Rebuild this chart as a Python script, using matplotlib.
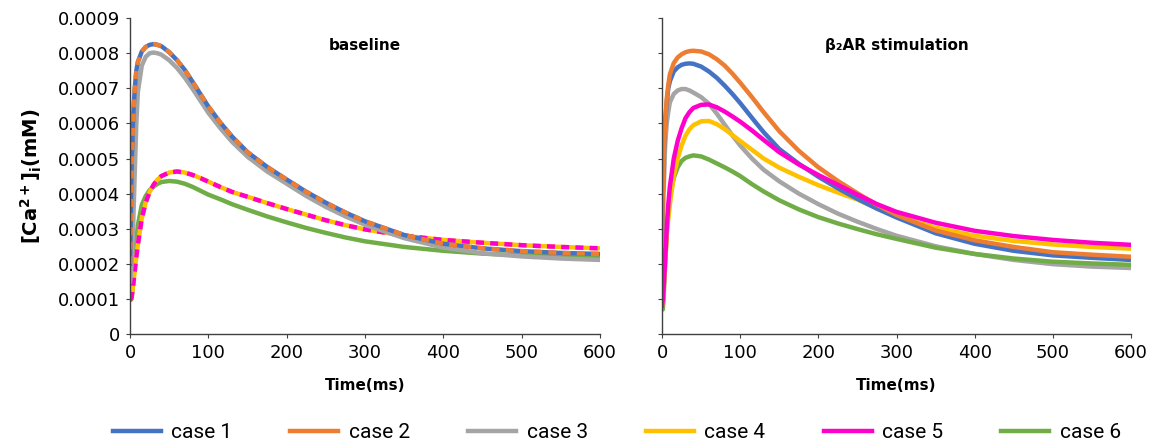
import numpy as np
from matplotlib import pyplot as plt
from matplotlib.lines import Line2D

# Data -----------------------------------------------------------------------------------------------------------------
time_ms = [0, 1, 2, 4, 6, 8, 10, 15, 20, 25, 30, 35, 40, 50, 60, 70, 80, 90, 100, 115, 130, 150, 175, 200, 225, 250,
           275, 300, 350, 400, 450, 500, 550, 600]

# baseline
base_case1 = [0.0002, 0.00034, 0.00048, 0.00062, 0.0007, 0.00075, 0.000775, 0.000805, 0.000818, 0.000824, 0.000826,
              0.000824, 0.00082, 0.000803, 0.00078, 0.000752, 0.000718, 0.000683, 0.000648, 0.000603, 0.000563,
              0.000518, 0.000476, 0.00044, 0.000405, 0.000374, 0.000346, 0.000321, 0.000282, 0.000257, 0.000244,
              0.000236, 0.000231, 0.000228]
base_case2 = list(base_case1)
base_case3 = [0.00015, 0.00017, 0.0002, 0.00031, 0.00046, 0.0006, 0.00069, 0.000765, 0.00079, 0.0008, 0.000802,
              0.0008, 0.000796, 0.00078, 0.000758, 0.00073, 0.000698, 0.000664, 0.00063, 0.000587, 0.000548,
              0.000505, 0.000463, 0.000428, 0.000393, 0.000362, 0.000335, 0.000311, 0.000273, 0.000246, 0.00023,
              0.000221, 0.000215, 0.000211]
base_case4 = [0.0001, 0.0001, 0.000105, 0.00014, 0.00018, 0.00022, 0.000255, 0.00033, 0.000375, 0.000405, 0.000425,
              0.00044, 0.00045, 0.00046, 0.000463, 0.00046, 0.000453, 0.000444, 0.000434, 0.000419, 0.000405,
              0.000391, 0.000373, 0.000356, 0.00034, 0.000324, 0.00031, 0.000298, 0.00028, 0.000268, 0.00026,
              0.000253, 0.000248, 0.000244]
base_case5 = list(base_case4)
base_case6 = [0.0001, 0.000097, 0.0001, 0.00015, 0.00021, 0.00027, 0.00031, 0.000368, 0.000393, 0.00041, 0.00042,
              0.000428, 0.000433, 0.000436, 0.000434, 0.000428, 0.000419, 0.000408, 0.000397, 0.000384, 0.00037,
              0.000354, 0.000335, 0.000318, 0.000302, 0.000288, 0.000275, 0.000264, 0.000248, 0.000237, 0.000229,
              0.000224, 0.000221, 0.000218]

# beta2-AR stimulation
stim_case1 = [0.00022, 0.0004, 0.0005, 0.0006, 0.00066, 0.0007, 0.00072, 0.000748, 0.00076, 0.000767, 0.00077,
              0.000771, 0.00077, 0.000762, 0.000748, 0.00073, 0.000708, 0.000684, 0.000658, 0.000616, 0.000575,
              0.000527, 0.000485, 0.000448, 0.000415, 0.000385, 0.000357, 0.000332, 0.000287, 0.000257, 0.000237,
              0.000224, 0.000217, 0.000211]
stim_case2 = [0.00025, 0.00042, 0.0005, 0.0006, 0.00067, 0.00071, 0.00074, 0.000772, 0.000788, 0.000797, 0.000803,
              0.000806, 0.000807, 0.000805, 0.000797, 0.000783, 0.000765, 0.000742, 0.000716, 0.000675, 0.000632,
              0.000578, 0.000522, 0.000475, 0.000436, 0.000401, 0.000368, 0.000339, 0.000295, 0.000267, 0.000248,
              0.000233, 0.000226, 0.00022]
stim_case3 = [0.00015, 0.0003, 0.0004, 0.00054, 0.0006, 0.000633, 0.00066, 0.000684, 0.000694, 0.000698, 0.000698,
              0.000694, 0.000688, 0.000675, 0.000656, 0.000628, 0.000597, 0.000566, 0.000537, 0.0005, 0.000468,
              0.000435, 0.0004, 0.00037, 0.000343, 0.00032, 0.000299, 0.00028, 0.00025, 0.000228, 0.000211,
              0.000199, 0.000192, 0.000188]
stim_case4 = [0.00008, 0.0001, 0.00013, 0.0002, 0.00028, 0.00033, 0.00037, 0.00045, 0.0005, 0.000537, 0.000565,
              0.000583, 0.000595, 0.000606, 0.000607, 0.000598, 0.000584, 0.000567, 0.00055, 0.000525, 0.0005,
              0.000474, 0.000448, 0.000424, 0.000403, 0.000383, 0.000358, 0.000336, 0.000303, 0.00028, 0.000265,
              0.000255, 0.000248, 0.000243]
stim_case5 = [0.00008, 0.0001, 0.00013, 0.00021, 0.0003, 0.00037, 0.00042, 0.0005, 0.00055, 0.000586, 0.000615,
              0.000632, 0.000644, 0.000653, 0.000654, 0.000646, 0.000634, 0.00062, 0.000605, 0.00058, 0.000553,
              0.000518, 0.000483, 0.000453, 0.000425, 0.000397, 0.000370, 0.000348, 0.000317, 0.000294, 0.000279,
              0.000268, 0.00026, 0.000254]
stim_case6 = [0.00008, 0.00007, 0.0001, 0.0002, 0.00029, 0.00035, 0.00039, 0.000445, 0.000475, 0.000493, 0.000502,
              0.000506, 0.000509, 0.000506, 0.000497, 0.000486, 0.000475, 0.000463, 0.00045, 0.000427, 0.000406,
              0.000381, 0.000355, 0.000333, 0.000315, 0.000299, 0.000284, 0.000271, 0.000246, 0.000228, 0.000215,
              0.000206, 0.000201, 0.000197]

case_names = ["case 1", "case 2", "case 3", "case 4", "case 5", "case 6"]
case_colors = ["#4472C4", "#ED7D31", "#A5A5A5", "#FFC000", "#FF00CC", "#70AD47"]
y_ticks = [0, 0.0001, 0.0002, 0.0003, 0.0004, 0.0005, 0.0006, 0.0007, 0.0008, 0.0009]
y_tick_labels = ["0", "0.0001", "0.0002", "0.0003", "0.0004", "0.0005", "0.0006", "0.0007", "0.0008", "0.0009"]
x_ticks = [0, 100, 200, 300, 400, 500, 600]

# Rendering ------------------------------------------------------------------------------------------------------------
fig = plt.figure(figsize=(11.55, 4.48), dpi=100)
ax1 = fig.add_axes([0.1126, 0.2545, 0.407, 0.705])
ax2 = fig.add_axes([0.5732, 0.2545, 0.406, 0.705])

lw = 3.2
dash = (1.8, 1.4)
# baseline: dashed lines drawn on top of the solid ones they overlap
ax1.plot(time_ms, base_case6, color=case_colors[5], lw=lw)
ax1.plot(time_ms, base_case4, color=case_colors[3], lw=lw)
ax1.plot(time_ms, base_case5, color=case_colors[4], lw=lw, dashes=dash)
ax1.plot(time_ms, base_case3, color=case_colors[2], lw=lw)
ax1.plot(time_ms, base_case1, color=case_colors[0], lw=lw)
ax1.plot(time_ms, base_case2, color=case_colors[1], lw=lw, dashes=dash)

stim = [stim_case1, stim_case2, stim_case3, stim_case4, stim_case5, stim_case6]
for i in [2, 5, 3, 0, 1, 4]:
    ax2.plot(time_ms, stim[i], color=case_colors[i], lw=lw)

for ax in (ax1, ax2):
    ax.set_xlim(0, 600)
    ax.set_ylim(0, 0.0009)
    ax.set_xticks(x_ticks)
    ax.set_yticks(y_ticks)
    for side in ("top", "right"):
        ax.spines[side].set_visible(False)
    for side in ("left", "bottom"):
        ax.spines[side].set_color("#404040")
        ax.spines[side].set_linewidth(1.0)
    ax.tick_params(length=3, width=0.8, color="#404040", labelsize=13, pad=4)
    ax.set_xlabel("Time(ms)", fontsize=11, fontweight="bold", labelpad=12)

ax1.set_yticklabels(y_tick_labels)
ax2.set_yticklabels([])
ax1.set_ylabel(r"[Ca$^{\mathbf{2+}}$]$_{\mathbf{i}}$(mM)", fontsize=14, fontweight="bold", labelpad=10)

ax1.text(0.5, 0.9, "baseline", transform=ax1.transAxes, fontsize=11, fontweight="bold", ha="center")
ax2.text(0.5, 0.9, "β₂AR stimulation", transform=ax2.transAxes, fontsize=11, fontweight="bold", ha="center")

handles = [Line2D([], [], color=c, lw=lw) for c in case_colors]
fig.legend(handles, case_names, loc="center", ncol=6, frameon=False, bbox_to_anchor=(0.534, 0.035),
           prop={"family": ["Roboto", "DejaVu Sans"], "size": 15},
           handlelength=2.3, handletextpad=0.5, columnspacing=2.8)

fig.savefig("out.png", dpi=100)
